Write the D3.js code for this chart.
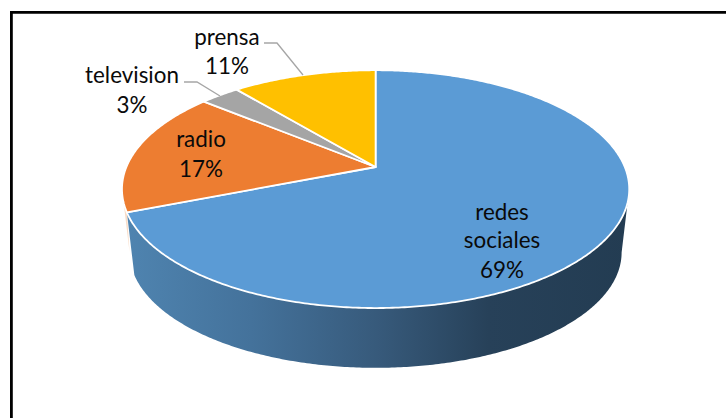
<!DOCTYPE html>
<html><head><meta charset="utf-8">
<script src="https://cdn.jsdelivr.net/npm/d3@7"></script>
<style>html,body{margin:0;padding:0;background:#fff}svg{display:block}text{font-family:Lato,"Open Sans",sans-serif;fill:#0a0a0a}</style>
</head><body><script>
const categories = ["redes sociales","radio","television","prensa"];
const values = [69,17,3,11];
const percentLabels = ["69%","17%","3%","11%"];
const colors = ["#5b9bd5","#ed7d31","#a5a5a5","#ffc000"];

const W=726,H=418;
const svg=d3.select("body").append("svg").attr("width",W).attr("height",H);
const defs=svg.append("defs");

// perspective projection of the pie disc
const apexX=375.6, apexY=167, A=249.2, B=114.8, k=0.186;
const s=0.97, baseY=231;
function topRim(t){const u=Math.sin(t),v=-Math.cos(t),w=1-k*v;return [apexX+A*u/w,apexY+B*v/w];}
function bottomRim(t){const p=topRim(t);return [apexX+s*(p[0]-apexX),baseY+s*(p[1]-apexY)];}
function samples(a,b){const n=Math.max(2,Math.ceil(Math.abs(b-a)/0.01));return d3.range(n+1).map(i=>a+(b-a)*i/n);}
const line=d3.line();

const arcs=d3.pie().sort(null).value(d=>d)(values);
const rightEdge=Math.PI-Math.acos(k);   // angle where the rim reaches its far right
const leftEdge=2*Math.PI-rightEdge;

// side wall gradient
const grad=defs.append("linearGradient").attr("id","side").attr("gradientUnits","userSpaceOnUse")
  .attr("x1",125).attr("x2",630).attr("y1",0).attr("y2",0);
[[0,"#4f84b0"],[0.25,"#44729b"],[0.5,"#375a7b"],[0.72,"#274159"],[1,"#233c52"]].forEach(d=>
  grad.append("stop").attr("offset",d[0]).attr("stop-color",d[1]));

// orange sliver visible at the far left
const o=arcs[1];
const sliver=samples(leftEdge,o.startAngle);
svg.append("path").attr("fill","#f9dcc6")
  .attr("d",line([...sliver.map(topRim),bottomRim(leftEdge)])+"Z");

// blue wall
const b=arcs[0];
const wall=samples(rightEdge,b.endAngle);
svg.append("path").attr("fill","url(#side)")
  .attr("d",line([...wall.map(topRim),...wall.slice().reverse().map(bottomRim)])+"Z");

// top faces
svg.append("g").selectAll("path").data(arcs).join("path")
  .attr("fill",(d,i)=>colors[i]).attr("stroke","#fff").attr("stroke-width",1.8).attr("stroke-linejoin","round")
  .attr("d",d=>line([[apexX,apexY],...samples(d.startAngle,d.endAngle).map(topRim)])+"Z");

// leader lines
const leaders=[[[264,43],[277,43],[303,75]],[[184,82],[197,82],[220,96]]];
svg.append("g").selectAll("path").data(leaders).join("path")
  .attr("fill","none").attr("stroke","#a6a6a6").attr("stroke-width",1.3).attr("d",d=>line(d));

// labels: category words then percentage, in slice order
const labelPos=[{x:502,y:[220,248,278]},{x:201,y:[147,177]},{x:132,y:[83,113]},{x:227,y:[45,74]}];
const lines=categories.map((c,i)=>(i===0?c.split(" "):[c]).concat(percentLabels[i]));
const fs=22.4;
lines.forEach((ls,i)=>{ls.forEach((t,j)=>{
  svg.append("text").attr("x",labelPos[i].x).attr("y",labelPos[i].y[j])
    .attr("text-anchor","middle").attr("font-size",fs).text(t);
});});

// frame
svg.append("path").attr("fill","none").attr("stroke","#000").attr("stroke-width",2.8)
  .attr("d",`M11.4,${H}V12.4H${W}`);
</script></body></html>
